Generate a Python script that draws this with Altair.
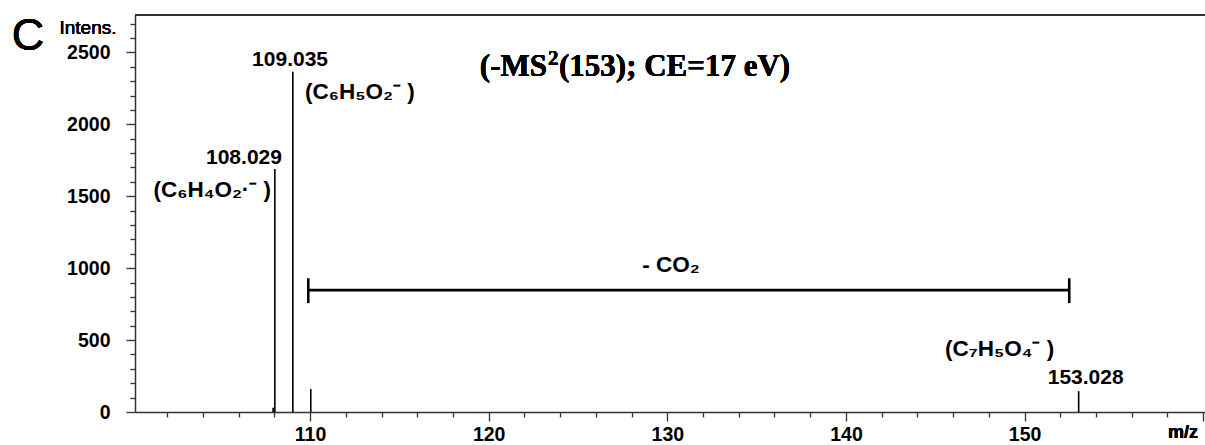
import altair as alt
import pandas as pd

# ---- data ----
peak_mz = [107.93, 108.029, 109.035, 110.04, 153.028]
peak_int = [30, 1690, 2365, 160, 145]

num_text = ["109.035", "108.029", "153.028"]
num_mz = [108.88, 106.30, 153.42]
num_int = [2444, 1764, 236]

form_text = ["(C₆H₅O₂⁻ )", "(C₆H₄O₂·⁻ )", "(C₇H₅O₄⁻ )"]
form_mz = [109.72, 107.82, 148.6]
form_int = [2222, 1542, 437]
form_align = ["left", "right", "center"]

bracket_mz = [109.9, 152.5]
bracket_int = 847
bracket_cap = [757, 930]
loss_text = "- CO₂"
loss_mz = 130.2
loss_int = 1020

x_domain = [100.2, 160.1]
y_domain = [0, 2760]
x_ticks = list(range(102, 161, 2))
y_ticks = list(range(0, 2701, 100))

W, H = 1070, 397
FONT = "Liberation Sans"
SERIF = "Liberation Serif"

peaks = pd.DataFrame({"mz": peak_mz, "intensity": peak_int, "base": [0] * len(peak_mz)})
nums = pd.DataFrame({"mz": num_mz, "intensity": num_int, "text": num_text})
forms = pd.DataFrame({"mz": form_mz, "intensity": form_int, "text": form_text, "align": form_align})
br_h = pd.DataFrame({"mz": [bracket_mz[0]], "mz2": [bracket_mz[1]], "intensity": [bracket_int]})
br_v = pd.DataFrame({"mz": bracket_mz, "intensity": [bracket_cap[0]] * 2, "int2": [bracket_cap[1]] * 2})
loss = pd.DataFrame({"mz": [loss_mz], "intensity": [loss_int], "text": [loss_text]})

xscale = alt.Scale(domain=x_domain, nice=False, zero=False)
yscale = alt.Scale(domain=y_domain, nice=False)

common_axis = dict(
    format="d", labelFont=FONT, labelFontSize=19.5, labelFontWeight="bold", labelColor="black",
    labelOverlap=False, labelFlush=False, grid=False, domainColor="#333", domainWidth=1.5,
    tickColor="#333", tickWidth=1.3, title=None,
)
xaxis = alt.Axis(
    values=x_ticks,
    labelExpr="datum.value % 10 === 0 && datum.value <= 150 ? datum.label : ''",
    tickSize={"condition": {"test": "datum.value % 10 === 0", "value": 9}, "value": 5},
    labelPadding=4, **common_axis,
)
yaxis = alt.Axis(
    values=y_ticks,
    labelExpr="datum.value % 500 === 0 && datum.value <= 2500 ? datum.label : ''",
    tickSize={"condition": {"test": "datum.value % 500 === 0", "value": 9}, "value": 5},
    labelPadding=16, **common_axis,
)

X = alt.X("mz:Q", scale=xscale, axis=xaxis)
Y = alt.Y("intensity:Q", scale=yscale, axis=yaxis)

base_peaks = alt.Chart(peaks).mark_rule(color="black", strokeWidth=1.6).encode(
    x=X, y=Y, y2="base:Q")

num_layer = alt.Chart(nums).mark_text(font=FONT, fontSize=21, fontWeight="bold", align="center",
                                      baseline="middle", color="black").encode(
    x=X, y=Y, text="text:N")

form_layers = []
for a in ["left", "center", "right"]:
    sub = forms[forms["align"] == a]
    if len(sub):
        form_layers.append(
            alt.Chart(sub).mark_text(font=FONT, fontSize=22.5, fontWeight="bold", align=a,
                                     baseline="middle", color="black").encode(
                x=X, y=Y, text="text:N")
        )

bh = alt.Chart(br_h).mark_rule(color="black", strokeWidth=2.6).encode(x=X, x2="mz2:Q", y=Y)
bv = alt.Chart(br_v).mark_rule(color="black", strokeWidth=2.6).encode(x=X, y=Y, y2="int2:Q")
lt = alt.Chart(loss).mark_text(font=FONT, fontSize=22.5, fontWeight="bold", align="center",
                               baseline="middle", color="black").encode(x=X, y=Y, text="text:N")

top_line = alt.Chart(peaks).mark_rule(color="#333", strokeWidth=1.5).encode(
    x=alt.value(0), x2=alt.value(W), y=alt.value(0))

t1 = alt.Chart(peaks).mark_text(font=SERIF, fontSize=31, fontWeight="bold", align="right",
                                baseline="alphabetic", color="black").encode(
    x=alt.value(412), y=alt.value(61), text=alt.value("(-MS"))
t2 = alt.Chart(peaks).mark_text(font=SERIF, fontSize=21, fontWeight="bold", align="left",
                                baseline="alphabetic", color="black").encode(
    x=alt.value(413), y=alt.value(50), text=alt.value("2"))
t3 = alt.Chart(peaks).mark_text(font=SERIF, fontSize=31, fontWeight="bold", align="left",
                                baseline="alphabetic", color="black").encode(
    x=alt.value(424), y=alt.value(61), text=alt.value("(153); CE=17 eV)"))

c_txt = alt.Chart(peaks).mark_text(font=FONT, fontSize=45, align="center", baseline="middle",
                                   color="black").encode(
    x=alt.value(-107), y=alt.value(21), text=alt.value("C"))
int_txt = alt.Chart(peaks).mark_text(font=FONT, fontSize=19, align="center", baseline="middle",
                                     color="black").encode(
    x=alt.value(-47), y=alt.value(13), text=alt.value("Intens."))
mz_txt = alt.Chart(peaks).mark_text(font=FONT, fontSize=18, fontWeight="bold", align="center",
                                    baseline="middle", color="black").encode(
    x=alt.value(1048), y=alt.value(418), text=alt.value("m/z"))

chart = alt.layer(
    base_peaks, bh, bv, lt, top_line, t1, t2, t3, c_txt, int_txt, mz_txt, num_layer, *form_layers
).properties(
    width=W, height=H,
    autosize=alt.AutoSizeParams(type="none"),
    padding={"left": 135, "top": 15, "right": 0, "bottom": 33},
).configure_view(strokeWidth=0).configure(background="white")

chart.save("out.html", embed_options={"renderer": "svg", "actions": False})
